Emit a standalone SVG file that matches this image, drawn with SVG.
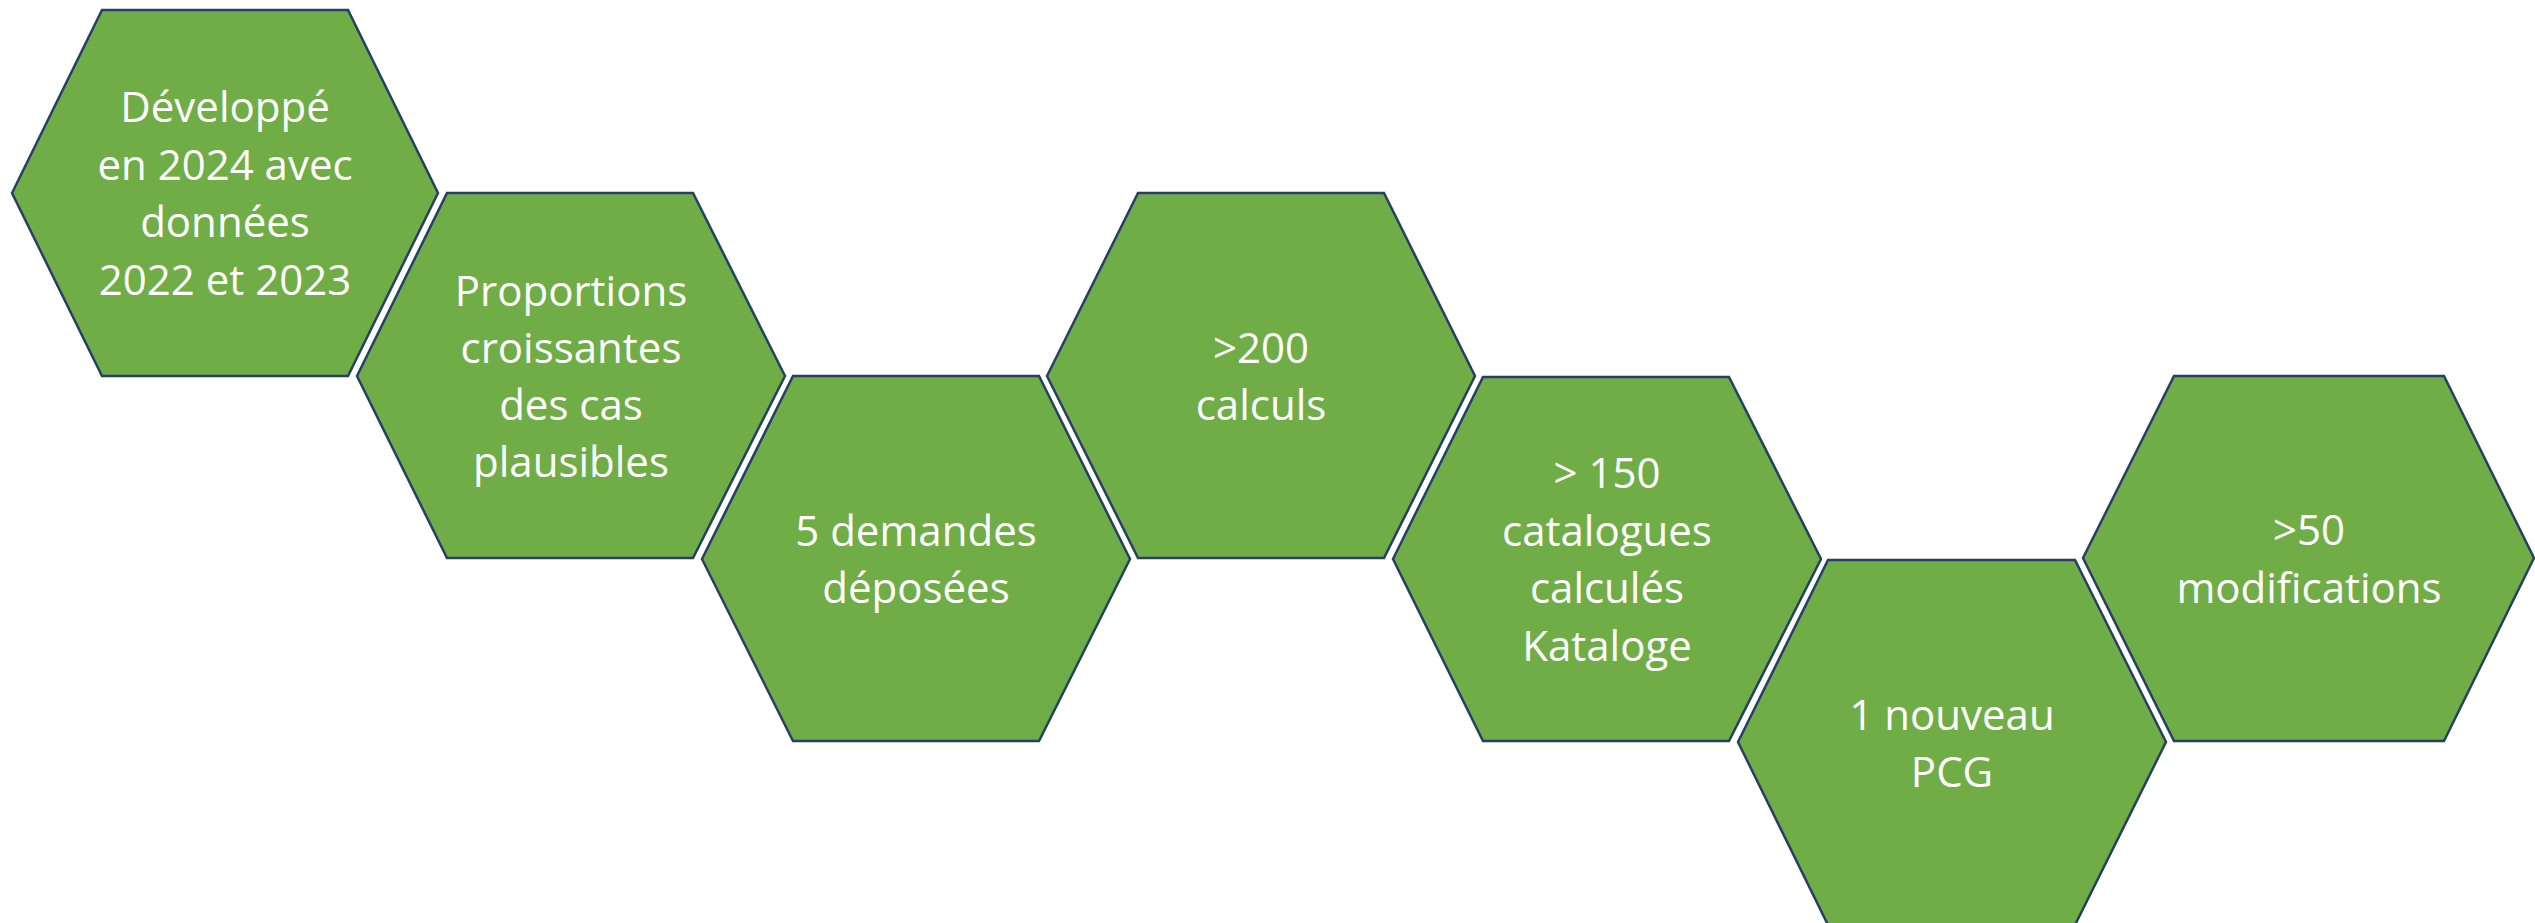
<svg xmlns="http://www.w3.org/2000/svg" width="2535" height="923" viewBox="0 0 2535 923">
<style>
.hex{fill:#70AD47;stroke:#263F64;stroke-width:2.5;stroke-linejoin:miter}
.t{font-family:"Open Sans","Liberation Sans",sans-serif;font-size:42px;fill:#ffffff;text-anchor:middle}
</style>
<rect width="2535" height="923" fill="#ffffff"/>
<g id="connectors"></g>
<g id="n1">
<polygon class="hex" points="12,193 102,10 348,10 438,193 348,376 102,376"/>
<text class="t" x="225" y="122">Développé</text>
<text class="t" x="225" y="180">en 2024 avec</text>
<text class="t" x="225" y="237">données</text>
<text class="t" x="225" y="295">2022 et 2023</text>
</g>
<g id="n2">
<polygon class="hex" points="357,376 447,193 693,193 785,376 693,558 447,558"/>
<text class="t" x="571" y="306">Proportions</text>
<text class="t" x="571" y="363">croissantes</text>
<text class="t" x="571" y="420">des cas</text>
<text class="t" x="571" y="477">plausibles</text>
</g>
<g id="n3">
<polygon class="hex" points="702,559 793,376 1039,376 1130,559 1039,741 793,741"/>
<text class="t" x="916" y="546">5 demandes</text>
<text class="t" x="916" y="603">déposées</text>
</g>
<g id="n4">
<polygon class="hex" points="1047,376 1138,193 1384,193 1475,376 1384,558 1138,558"/>
<text class="t" x="1261" y="363">&gt;200</text>
<text class="t" x="1261" y="420">calculs</text>
</g>
<g id="n5">
<polygon class="hex" points="1393,559 1483,377 1729,377 1821,559 1729,741 1483,741"/>
<text class="t" x="1607" y="488">&gt; 150</text>
<text class="t" x="1607" y="546">catalogues</text>
<text class="t" x="1607" y="603">calculés</text>
<text class="t" x="1607" y="661">Kataloge</text>
</g>
<g id="n6">
<polygon class="hex" points="1738,742 1828,560 2075,560 2166,742 2075,925 1828,925"/>
<text class="t" x="1952" y="730">1 nouveau</text>
<text class="t" x="1952" y="787">PCG</text>
</g>
<g id="n7">
<polygon class="hex" points="2083,558 2174,376 2444,376 2534,558 2444,741 2174,741"/>
<text class="t" x="2309" y="545">&gt;50</text>
<text class="t" x="2309" y="603">modifications</text>
</g>
</svg>
